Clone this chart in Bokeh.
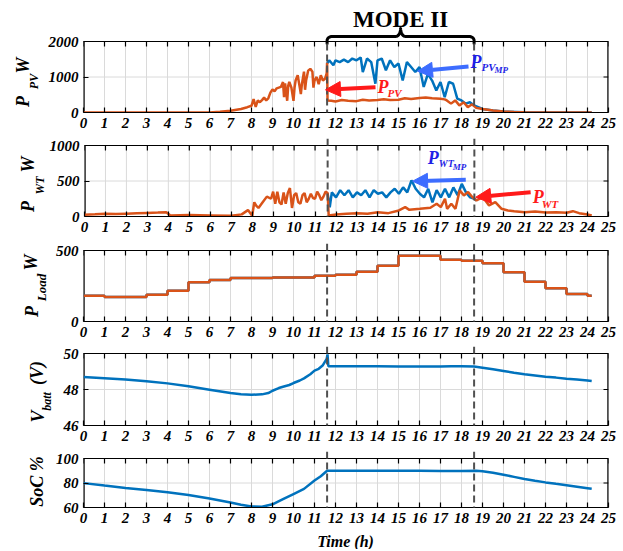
import numpy as np
from bokeh.plotting import figure
from bokeh.layouts import column, row
from bokeh.models import Range1d, FixedTicker, Arrow, NormalHead, Label
from bokeh.embed import file_html
from bokeh.resources import INLINE

# ---------------- data ----------------
x_ticks = list(range(26))
mode_bounds = [11.6, 18.6]
mode_label = "MODE II"
time_label = "Time (h)"

pv_t = [
    0.0, 6.0, 6.5, 7.0, 7.5, 7.8, 8.0, 8.1, 8.2, 8.3,
    8.4, 8.5, 8.6, 8.7, 8.8, 8.9, 9.0, 9.1, 9.2, 9.3,
    9.4, 9.5, 9.55, 9.6, 9.7, 9.75, 9.8, 9.9, 10.0, 10.05,
    10.1, 10.2, 10.3, 10.35, 10.4, 10.5, 10.55, 10.6, 10.7, 10.8,
    10.9, 10.95, 11.0, 11.1, 11.2, 11.3, 11.4, 11.5, 11.58, 11.6,
    11.62, 11.8, 12.0, 12.3, 12.6, 13.0, 13.3, 13.6, 14.0, 14.3,
    14.6, 15.0, 15.3, 15.6, 16.0, 16.3, 16.6, 17.0, 17.2, 17.3,
    17.5, 17.7, 17.9, 18.1, 18.3, 18.5, 18.7, 19.0, 19.5, 20.0,
    20.5, 21.0, 22.0, 24.2]
pv_v = [
    0, 0, 20, 50, 100, 150, 190, 380, 160, 340,
    290, 350, 420, 340, 400, 560, 650, 600, 680, 700,
    720, 860, 430, 820, 330, 760, 860, 700, 330, 700,
    900, 1050, 700, 520, 800, 1150, 640, 900, 1180, 1230,
    1150, 700, 900, 1000, 800, 1050, 900, 950, 1100, 1400,
    340, 330, 310, 350, 330, 320, 360, 340, 350, 370,
    350, 360, 400, 380, 410, 420, 400, 390, 370, 340,
    250, 340, 200, 290, 150, 230, 130, 100, 55, 28,
    15, 8, 2, 0]

pvmp_t = [
    11.6, 11.7, 11.9, 12.0, 12.2, 12.4, 12.6, 12.8, 13.0, 13.2,
    13.3, 13.5, 13.7, 13.9, 14.0, 14.2, 14.4, 14.6, 14.8, 15.0,
    15.2, 15.4, 15.6, 15.8, 16.0, 16.2, 16.4, 16.6, 16.8, 17.0,
    17.2, 17.4, 17.6, 17.8, 18.0, 18.2, 18.4, 18.6, 18.8, 19.0,
    19.5, 20.0, 21.0, 22.0, 24.2]
pvmp_v = [
    1380, 1470, 1330, 1470, 1420, 1490, 1420, 1520, 1470, 1550,
    1140, 1520, 1420, 810, 1470, 1520, 1190, 1470, 1280, 1380,
    900, 1420, 1280, 1140, 1280, 720, 1090, 900, 620, 860,
    430, 860, 810, 390, 340, 250, 290, 200, 150, 100,
    55, 28, 8, 2, 0]

wt_t = [
    0.0, 0.5, 1.0, 1.5, 2.0, 2.5, 3.0, 3.5, 3.9, 4.1,
    5.0, 6.0, 7.0, 7.5, 7.8, 8.0, 8.1, 8.2, 8.3, 8.5,
    8.7, 8.9, 9.0, 9.1, 9.2, 9.3, 9.4, 9.5, 9.6, 9.7,
    9.8, 9.9, 10.0, 10.1, 10.2, 10.3, 10.4, 10.5, 10.6, 10.7,
    10.8, 10.9, 11.0, 11.1, 11.2, 11.3, 11.4, 11.5, 11.6, 11.65,
    12.0, 12.5, 13.0, 13.5, 14.0, 14.5, 15.0, 15.3, 15.5, 16.0,
    16.5, 16.8, 17.0, 17.2, 17.3, 17.5, 17.7, 17.9, 18.1, 18.3,
    18.5, 18.7, 19.0, 19.3, 19.6, 19.9, 20.2, 20.5, 21.0, 21.5,
    22.0, 22.5, 23.0, 23.3, 23.6, 24.0, 24.2]
wt_v = [
    25, 30, 40, 35, 40, 45, 50, 55, 60, 15,
    20, 15, 10, 30, 90, 10, 200, 150, 120, 200,
    280, 250, 350, 180, 350, 200, 170, 340, 180, 330,
    400, 120, 300, 330, 200, 180, 300, 330, 200, 250,
    320, 260, 250, 350, 300, 230, 280, 350, 330, 15,
    28, 38, 47, 38, 61, 47, 85, 132, 94, 108,
    123, 179, 132, 250, 108, 179, 108, 368, 297, 344,
    274, 226, 274, 156, 203, 108, 85, 75, 61, 71,
    57, 61, 52, 75, 47, 28, 14]

wtmp_t = [
    11.6, 11.7, 11.8, 12.0, 12.2, 12.4, 12.6, 12.8, 13.0, 13.2,
    13.4, 13.6, 13.8, 14.0, 14.2, 14.4, 14.6, 14.8, 15.0, 15.2,
    15.4, 15.6, 15.8, 16.0, 16.2, 16.4, 16.6, 16.8, 17.0, 17.2,
    17.4, 17.6, 17.8, 18.0, 18.2, 18.4, 18.6, 18.7]
wtmp_v = [
    320, 130, 340, 270, 370, 300, 370, 270, 340, 300,
    370, 270, 370, 320, 340, 270, 340, 390, 320, 410,
    340, 510, 390, 320, 270, 390, 200, 370, 270, 390,
    270, 410, 300, 460, 340, 270, 250, 226]

load_t = list(range(25)) + [24.2]
load_v = [182, 173, 173, 189, 217, 276, 292, 306, 306, 310,
          310, 322, 329, 350, 393, 463, 463, 435, 428, 411,
          346, 280, 234, 194, 182, 182]

vb_t = [0, 1, 2, 3, 4, 5, 6, 7, 7.5, 8, 8.5, 8.8, 9, 9.3, 9.5, 9.8,
        10, 10.3, 10.5, 10.8, 11, 11.2, 11.4, 11.5, 11.58, 11.62, 11.66,
        12, 13, 14, 15, 16, 17, 17.5, 18, 18.6, 19, 19.5, 20, 20.5,
        21, 21.5, 22, 22.5, 23, 23.5, 24, 24.2]
vb_v = [48.70, 48.63, 48.55, 48.46, 48.34, 48.18, 47.99, 47.80, 47.74, 47.71,
        47.73, 47.80, 47.93, 48.08, 48.15, 48.25, 48.36, 48.50, 48.62, 48.85,
        49.05, 49.15, 49.35, 49.55, 49.70, 49.95, 49.29, 49.29, 49.29, 49.29,
        49.28, 49.28, 49.28, 49.29, 49.29, 49.28, 49.21, 49.12, 49.03, 48.93,
        48.85, 48.78, 48.71, 48.66, 48.60, 48.55, 48.50, 48.47]

soc_t = [0, 1, 2, 3, 4, 5, 6, 7, 7.5, 8, 8.5, 9, 9.5, 10, 10.5, 11, 11.3,
         11.6, 12, 13, 14, 15, 16, 17, 18, 18.7, 19, 19.5, 20, 20.5, 21,
         21.5, 22, 22.5, 23, 23.5, 24, 24.2]
soc_v = [79.9, 77.9, 76.0, 74.3, 72.4, 70.2, 67.4, 64.1, 62.3, 60.9,
         60.6, 62.6, 66.8, 71.0, 75.2, 82.0, 85.5, 90.0, 90.0, 90.0,
         90.0, 89.9, 89.9, 89.8, 89.8, 89.9, 89.6, 88.4, 86.8, 85.0,
         83.2, 81.8, 80.5, 79.3, 78.2, 77.0, 75.8, 75.3]

# ---------------- layout / style ----------------
FONT = "Liberation Serif"
BLUE = "#0072BD"
ORANGE = "#D95319"
DASH = "#505050"
GRID = "#dadada"
ARROW_BLUE = "#3D6DFF"
TEXT_BLUE = "#1F1FE6"
RED = "#FF1A1A"
TOTAL_W = 620
FRAME_L = 83          # page x of the boxes' left edge
RIGHT = 12
FW = TOTAL_W - FRAME_L - RIGHT
X_START, X_END = 0, 25
PPH = FW / (X_END - X_START)
TICK = 5
EDGE = 1.2


def px2x(px):
    return X_START + (px - FRAME_L) / PPH


def style_axis(ax):
    ax.major_tick_in = TICK
    ax.major_tick_out = 0
    ax.minor_tick_in = 0
    ax.minor_tick_out = 0
    ax.axis_line_color = "black"
    ax.axis_line_width = EDGE
    ax.major_tick_line_color = "black"
    ax.major_tick_line_width = EDGE
    ax.major_label_text_font = FONT
    ax.major_label_text_font_style = "bold italic"
    ax.major_label_text_font_size = "15px"
    ax.major_label_text_color = "black"
    ax.major_label_standoff = 5


def blank_fig(w, h, x_range=None, y_range=None):
    f = figure(width=w, height=h, x_range=x_range or Range1d(0, w),
               y_range=y_range or Range1d(0, h),
               output_backend="svg", toolbar_location=None,
               x_axis_location=None, y_axis_location=None,
               min_border_left=0, min_border_right=0,
               min_border_top=0, min_border_bottom=0)
    f.grid.visible = False
    f.outline_line_color = None
    return f


class Panel:
    """fig_top: page y of the figure; box_top/box_bottom: page y of the drawn box."""

    def __init__(self, fig_top, box_top, box_bottom, fig_bottom, lw, y0, y1, yticks):
        self.fig_top, self.box_top, self.box_bottom, self.fig_bottom = fig_top, box_top, box_bottom, fig_bottom
        self.y0, self.y1 = y0, y1
        self.bh = box_bottom - box_top
        self.H = fig_bottom - fig_top
        self.lw = lw
        y_top = self.y(fig_top)
        p = figure(width=TOTAL_W - lw, height=self.H, x_range=Range1d(X_START, X_END),
                   y_range=Range1d(y0, y_top), output_backend="svg", toolbar_location=None,
                   min_border_left=FRAME_L - lw, min_border_right=RIGHT,
                   min_border_top=0, min_border_bottom=fig_bottom - box_bottom)
        p.outline_line_color = None
        p.xaxis.ticker = FixedTicker(ticks=x_ticks)
        p.yaxis.ticker = FixedTicker(ticks=yticks)
        style_axis(p.xaxis[0])
        style_axis(p.yaxis[0])
        p.yaxis.axis_line_color = None
        p.xgrid.visible = False
        p.ygrid.visible = False
        n, m = len(x_ticks), len(yticks)
        # grid inside the box
        p.segment(x0=x_ticks, y0=[y0] * n, x1=x_ticks, y1=[y1] * n,
                  line_color=GRID, line_width=1, level="underlay")
        p.segment(x0=[X_START] * m, y0=yticks, x1=[X_END] * m, y1=yticks,
                  line_color=GRID, line_width=1, level="underlay")
        # box edges (left/right sit on the frame edge, so they are drawn twice as wide)
        p.segment(x0=[X_START, X_START, X_END], y0=[y1, y0, y0],
                  x1=[X_END, X_START, X_END], y1=[y1, y1, y1],
                  line_color="black", line_width=[EDGE, 2 * EDGE, 2 * EDGE])
        # inward ticks on the top and right edges
        ty = (y1 - y0) * TICK / self.bh
        p.segment(x0=x_ticks, y0=[y1] * n, x1=x_ticks, y1=[y1 - ty] * n,
                  line_color="black", line_width=EDGE)
        p.segment(x0=[X_END] * m, y0=yticks, x1=[X_END - TICK / PPH] * m, y1=yticks,
                  line_color="black", line_width=EDGE)
        self.p = p
        # label strip: in a row its frame is aligned with the panel's frame
        # (fig_top .. box_bottom), so its y data is simply minus the page y
        self.lab = blank_fig(lw, self.H, Range1d(0, lw), Range1d(-box_bottom, -fig_top))

    def y(self, py):
        return self.y0 + (self.box_bottom - py) / self.bh * (self.y1 - self.y0)

    def text(self, s, px, py, size, color, style="bold italic", align="left"):
        self.p.add_layout(Label(x=px2x(px), y=self.y(py), text=s,
                                text_font=FONT, text_font_style=style,
                                text_font_size=f"{size}px", text_color=color,
                                text_align=align, text_baseline="middle"))

    def ylabel(self, pieces):
        # each piece is given by its centre (page px) - rotated about that centre
        for s, cx, cy, size in pieces:
            self.lab.add_layout(Label(x=cx, y=-cy, text=s, angle=np.pi / 2,
                                      text_font=FONT, text_font_style="bold italic",
                                      text_font_size=f"{size}px", text_color="black",
                                      text_align="center", text_baseline="middle"))

    def arrow(self, p0, p1, color):
        self.p.add_layout(Arrow(end=NormalHead(size=15, fill_color=color, line_color=color),
                                x_start=px2x(p0[0]), y_start=self.y(p0[1]),
                                x_end=px2x(p1[0]), y_end=self.y(p1[1]),
                                line_color=color, line_width=4))

    def dashed(self, top_py, bottom_py):
        for xb in mode_bounds:
            self.p.add_layout(Arrow(end=None, x_start=xb, y_start=self.y(top_py),
                                    x_end=xb, y_end=self.y(bottom_py),
                                    line_color=DASH, line_width=2, line_dash="7 4"))

    def row(self):
        return row(self.lab, self.p, spacing=0)


# panel 1: PV (its frame also holds the MODE II brace above the box)
P1 = Panel(0, 41, 112, 138, 42, 0, 2000, [0, 1000, 2000])
P1.p.line(pvmp_t, pvmp_v, line_color=BLUE, line_width=2.5)
P1.p.line(pv_t, pv_v, line_color=ORANGE, line_width=2.5)
P1.ylabel([("P", 22.5, 101, 18), ("PV", 33.5, 81, 12), ("W", 22.5, 65, 18)])
P1.dashed(43, P1.fig_bottom)
P1.arrow((468, 66), (417, 70.7), ARROW_BLUE)
P1.arrow((375, 86.7), (325, 89.3), RED)
P1.text("P", 470, 61, 18, TEXT_BLUE)
P1.text("PV", 481, 66, 11, TEXT_BLUE)
P1.text("MP", 494, 69, 9, TEXT_BLUE)
P1.text("P", 377, 86, 18, RED)
P1.text("PV", 387, 92.5, 11, RED)

xs0, xs1 = mode_bounds
xm = (xs0 + xs1) / 2
rh = 5 / PPH
a1 = np.linspace(np.pi, np.pi / 2, 10)
a2 = np.linspace(-np.pi / 2, 0, 10)
a3 = np.linspace(np.pi, 1.5 * np.pi, 10)
a4 = np.linspace(np.pi / 2, 0, 10)
bx = np.concatenate([[xs0], xs0 + rh + rh * np.cos(a1), xm - rh + rh * np.cos(a2),
                     xm + rh + rh * np.cos(a3), xs1 - rh + rh * np.cos(a4), [xs1]])
bu = np.concatenate([[0.0], 3 + 4 * np.sin(a1), 15 + 8 * np.sin(a2),
                     15 + 8 * np.sin(a3), 3 + 4 * np.sin(a4), [0.0]])
P1.p.line(bx, [P1.y(43 - u) for u in bu], line_color="black", line_width=3,
          line_join="round", line_cap="round")
P1.p.add_layout(Label(x=xm, y=P1.y(18.7), text=mode_label, text_align="center",
                      text_baseline="middle", text_font=FONT, text_font_style="bold",
                      text_font_size="23px", text_color="black"))

# panel 2: WT
P2 = Panel(138, 145, 216, 243, 46, 0, 1000, [0, 500, 1000])
P2.p.line(wtmp_t, wtmp_v, line_color=BLUE, line_width=2.5)
P2.p.line(wt_t, wt_v, line_color=ORANGE, line_width=2.5)
P2.ylabel([("P", 27.5, 206, 18), ("WT", 39, 185, 12), ("W", 27.5, 164, 18)])
P2.dashed(P2.fig_top, P2.fig_bottom)
P2.arrow((465, 179.3), (411.7, 180.7), ARROW_BLUE)
P2.arrow((530, 191.7), (475, 196.7), RED)
P2.text("P", 427, 157, 18, TEXT_BLUE)
P2.text("WT", 438, 163, 10, TEXT_BLUE)
P2.text("MP", 452, 166, 9, TEXT_BLUE)
P2.text("P", 532, 196, 18, RED)
P2.text("WT", 541, 203, 11, RED)

# panel 3: load
P3 = Panel(243, 250, 321, 346, 50, 0, 500, [0, 500])
P3.p.step(load_t, load_v, mode="after", line_color=BLUE, line_width=2.5)
P3.p.step(load_t, load_v, mode="after", line_color=ORANGE, line_width=2.5)
P3.ylabel([("P", 31, 311, 18), ("Load", 41, 287, 13), ("W", 30, 262, 18)])
P3.dashed(P3.fig_top, P3.fig_bottom)

# panel 4: battery voltage
P4 = Panel(346, 353, 425, 451, 54, 46, 50, [46, 48, 50])
P4.p.line(vb_t, vb_v, line_color=BLUE, line_width=2.5)
P4.ylabel([("V", 37, 416, 18), ("batt", 46, 401, 12), ("(V)", 36.5, 372.5, 18)])
P4.dashed(P4.fig_top, P4.fig_bottom)

# panel 5: SoC
P5 = Panel(451, 458, 507, 531, 48, 60, 100, [60, 80, 100])
P5.p.line(soc_t, soc_v, line_color=BLUE, line_width=2.5)
P5.ylabel([("SoC %", 36, 481, 18)])
P5.dashed(P5.fig_top, 522)

# bottom strip: x-axis title
BOT_TOP, BOT_H = 531, 18
bottom = blank_fig(TOTAL_W, BOT_H)
bottom.add_layout(Label(x=345, y=BOT_TOP + BOT_H - 541, text=time_label,
                        text_align="center", text_baseline="middle", text_font=FONT,
                        text_font_style="bold italic", text_font_size="16px",
                        text_color="black"))

layout = column(P1.row(), P2.row(), P3.row(), P4.row(), P5.row(), bottom, spacing=0)
open("out.html", "w").write(file_html(layout, INLINE))
